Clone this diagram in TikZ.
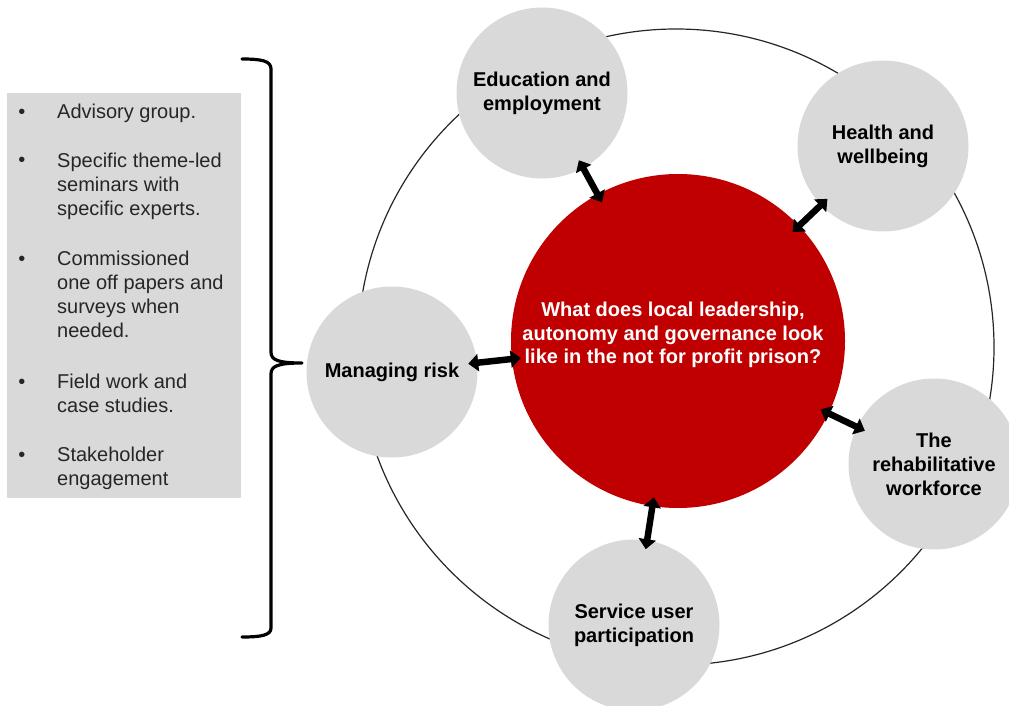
\documentclass[tikz,border=0pt]{standalone}
\usepackage{fontspec}
\setmainfont{Liberation Sans}
\usetikzlibrary{arrows.meta}
\definecolor{cgray}{HTML}{D9D9D9}
\definecolor{cred}{HTML}{C00000}
\begin{document}
\begin{tikzpicture}[x=1pt,y=-1pt,
  theme/.style={circle,fill=cgray,minimum size=171pt,inner sep=0pt,align=center,
    font=\fontsize{20}{24}\selectfont\bfseries},
  core/.style={circle,fill=cred,minimum size=334pt,inner sep=0pt},
  coretext/.style={align=center,text=white,inner sep=0pt,
    font=\fontsize{20}{23.5}\selectfont\bfseries},
  ringstyle/.style={circle,draw=black!85,line width=1.2pt,minimum size=636pt,inner sep=0pt},
  link/.style={line width=6.5pt,
    {Triangle[length=10pt,width=17pt]}-{Triangle[length=10pt,width=17pt]},
    shorten <=-9pt,shorten >=-9pt},
  listbox/.style={fill=cgray,minimum width=234pt,minimum height=405pt,inner sep=0pt,anchor=north west},
  item/.style={anchor=base west,align=left,inner sep=0pt,text=black!85,
    font=\fontsize{20}{24}\selectfont},
  bul/.style={anchor=base,inner sep=0pt,text=black!85,font=\fontsize{20}{24}\selectfont},
  brace/.style={line width=3.2pt,line cap=round,line join=round}
]
\useasboundingbox (0,0) rectangle (1009,706);

% outer ring
\node[ringstyle] (ring) at (676,347) {};

% central question
\node[core] (core) at (678,341) {};
\node[coretext] (q) at (673,335) {What does local leadership,\\autonomy and governance look\\like in the not for profit prison?};

% themes
\node[theme] (edu) at (542,93) {Education and\\employment};
\node[theme] (health) at (883,146) {Health and\\wellbeing};
\node[theme] (risk) at (392,372) {Managing risk};
\node[theme] (rehab) at (934,464) {The\\rehabilitative\\workforce};
\node[theme] (serv) at (634,625) {Service user\\participation};

% links
\draw[link] (edu) -- (core);
\draw[link] (health) -- (core);
\draw[link] (risk) -- (core);
\draw[link] (rehab) -- (core);
\draw[link] (serv) -- (core);

% list of activities (item nodes anchored at the baseline of their last line)
\node[listbox] (list) at (7,93) {};
\node[bul] (b1) at (22,119) {•};
\node[item] (i1) at (57,119) {Advisory group.};
\node[bul] (b2) at (22,167) {•};
\node[item] (i2) at (57,215) {Specific theme-led\\seminars with\\specific experts.};
\node[bul] (b3) at (22,265) {•};
\node[item] (i3) at (57,337) {Commissioned\\one off papers and\\surveys when\\needed.};
\node[bul] (b4) at (22,388) {•};
\node[item] (i4) at (57,412) {Field work and\\case studies.};
\node[bul] (b5) at (22,461) {•};
\node[item] (i5) at (57,485) {Stakeholder\\engagement};

% brace
\draw[brace] (242,59) .. controls (262,59) and (271,61) .. (271,69)
  -- (271,352) .. controls (271,360) and (278,363) .. (302,363)
  .. controls (278,363) and (271,366) .. (271,374)
  -- (271,628) .. controls (271,635) and (262,637) .. (242,637);
\end{tikzpicture}
\end{document}
